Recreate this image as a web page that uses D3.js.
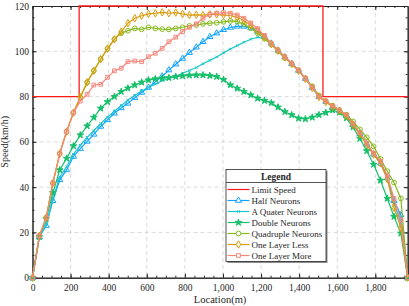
<!DOCTYPE html>
<html>
<head>
<meta charset="utf-8">
<script src="https://cdn.jsdelivr.net/npm/d3@7"></script>
<style>
  body { margin: 0; background: #fff; }
  svg text { font-family: "Liberation Serif", "Times New Roman", serif; fill: #262626; }
</style>
</head>
<body>
<svg id="chart" width="409" height="306"></svg>
<script>
// sampled locations (m), shared by all network runs
var locations = [0, 36, 72, 107, 143, 179, 215, 251, 287, 322, 358, 394, 430, 466, 501, 537, 573, 609, 645, 681,
  716, 752, 788, 824, 860, 895, 931, 967, 1003, 1039, 1075, 1110, 1146, 1182, 1218, 1254, 1289, 1325, 1361, 1397,
  1433, 1469, 1504, 1540, 1576, 1612, 1648, 1683, 1719, 1755, 1791, 1827, 1863, 1898, 1934, 1970];

var limitLocations = [0, 245, 245, 1525, 1525, 1970];
var limitSpeeds = [80, 80, 120, 120, 80, 80];

var halfNeurons = [0, 18, 23, 34, 43.2, 47.6, 53.5, 57, 60.2, 63.3, 66.8, 69.7, 72.6, 75, 77, 79.5, 81.8, 84, 86.5, 89,
  91.7, 94.3, 96.8, 99.4, 101.8, 104.2, 106.4, 108, 109.5, 110.5, 111, 111, 110.3, 108.8, 106.5, 103.5, 100.4, 97.4, 94.5, 91.5,
  87.9, 83.9, 79.9, 77.8, 75.6, 73.8, 71.6, 67.6, 63.6, 59, 54.5, 50.5, 44, 34, 27.7, 0];
var quaterNeurons = [0, 18, 23.5, 35, 44.5, 49, 54.5, 58.5, 62, 65, 68, 71, 73.5, 76, 78.5, 80.5, 82.5, 84, 85.5, 87,
  88, 89, 90.3, 91.5, 92.8, 94.5, 96, 97.5, 99.3, 101, 102.5, 104, 105.3, 106.2, 105.6, 103.4, 100.5, 97.5, 94.6, 91.6,
  88, 84, 80, 77.9, 75.7, 73.9, 71.8, 67.8, 63.8, 59.2, 54.7, 51, 44.5, 33, 24, 0];
var doubleNeurons = [0, 18, 26, 37.5, 47.6, 52.7, 58.2, 63, 67, 70.8, 74.8, 77.7, 80, 82.2, 83.7, 85.1, 86.3, 87.3, 87.8, 88.1,
  88.3, 88.8, 89.1, 89.4, 89.5, 89.5, 89.2, 88.8, 87.5, 85.1, 83.6, 82.2, 80.7, 79.2, 78.2, 77.2, 75.3, 73.3, 71.9, 70.4,
  70.1, 70.8, 71.9, 72.9, 74, 73, 70.5, 66.5, 61.5, 56, 50, 43, 35, 27, 19.6, 0];
var quadrupleNeurons = [0, 18.5, 26.5, 41.8, 54.8, 64.5, 72.9, 79.7, 86.3, 91.4, 96.5, 101.2, 105.3, 108, 109.1, 110.1, 109.7, 110.6, 110.1, 109.8,
  109.7, 110.1, 110.6, 111.2, 111.6, 112.1, 112.4, 112.6, 113, 113.4, 113.1, 112, 110.2, 108, 105.5, 103, 100, 97, 94.5, 91.5,
  88, 84.5, 80.5, 78, 76, 74, 72, 69, 65.5, 62, 58, 52.5, 47, 42, 35, 0];
var oneLayerLess = [0, 18.5, 26.5, 41.8, 54.8, 64.5, 72.9, 79.7, 86.3, 91.4, 96.5, 101.2, 105.3, 108.7, 112.4, 114.6, 115.7, 116.5, 116.8, 117.2,
  116.8, 117.1, 116.5, 116, 116.1, 116, 116.3, 116.3, 116, 115.8, 115, 113.5, 111.5, 109, 106.3, 103.2, 100.3, 97.3, 94.4, 91.4,
  87.8, 83.8, 79.8, 77.6, 75.5, 73.6, 71.4, 67.5, 63.4, 58.8, 54.4, 50.5, 43.5, 31, 22, 0];
var oneLayerMore = [0, 18.5, 26.5, 41.8, 54.8, 64.5, 72.9, 78, 81, 85.1, 85.4, 88.5, 91.4, 92.5, 95.4, 95.7, 95.4, 97.6, 99.1, 101.3,
  104.2, 106.2, 108.7, 110.6, 112.1, 114.6, 116.3, 116.8, 117.1, 116.8, 116, 114.6, 112.5, 110, 107, 103.5, 100.6, 97.6, 94.7, 91.7,
  88, 84, 80, 78, 75.8, 74, 72, 68, 64, 59.4, 55, 51.5, 45, 35, 25.5, 0];

var seriesNames = ['Half Neurons', 'A Quater Neurons', 'Double Neurons', 'Quadruple Neurons', 'One Layer Less', 'One Layer More'];
var seriesValues = [halfNeurons, quaterNeurons, doubleNeurons, quadrupleNeurons, oneLayerLess, oneLayerMore];
var seriesColors = ['#12a4ff', '#1cc6c9', '#17c06a', '#86ba1c', '#d99b0b', '#f7877d'];
var seriesMarkers = ['triangle', 'cross', 'star', 'circle', 'diamond', 'square'];

var xTicks = [0, 200, 400, 600, 800, 1000, 1200, 1400, 1600, 1800];
var yTicks = [0, 20, 40, 60, 80, 100, 120];

(function() {
  var svg = d3.select('#chart');
  var left = 32.5, right = 407.7, top = 6, bottom = 277.7;
  var axisColor = '#262626';
  var serif = '"Liberation Serif", "Times New Roman", serif';

  var x = d3.scaleLinear().domain([0, 1970]).range([left, right]);
  var y = d3.scaleLinear().domain([0, 120]).range([bottom, top]);

  var xMinor = d3.range(0, 1971, 50), yMinor = d3.range(0, 121, 5);

  // dashed grid
  var grid = svg.append('g').attr('stroke', '#d6d6d6').attr('stroke-width', 0.9).attr('stroke-dasharray', '4,3');
  grid.selectAll('.gx').data(xTicks.filter(function(d) { return d > 0; })).join('line')
    .attr('x1', d => x(d)).attr('x2', d => x(d)).attr('y1', top).attr('y2', bottom);
  grid.selectAll('.gy').data(yTicks.filter(function(d) { return d > 0 && d < 120; })).join('line')
    .attr('x1', left).attr('x2', right).attr('y1', d => y(d)).attr('y2', d => y(d));

  // axes, ticks inward on all four sides
  function styleAxis(g) {
    g.attr('font-family', serif);
    g.selectAll('path, line').attr('stroke', axisColor);
    g.select('.domain').attr('stroke-width', 1);
    g.selectAll('text').attr('fill', axisColor).style('font-size', '9.5px').style('font-family', serif);
  }
  svg.append('g').attr('transform', `translate(0,${bottom})`)
    .call(d3.axisBottom(x).tickValues(xMinor).tickSize(-2).tickSizeOuter(0).tickFormat(''))
    .call(styleAxis);
  svg.append('g').attr('transform', `translate(0,${bottom})`)
    .call(d3.axisBottom(x).tickValues(xTicks).tickSize(-4).tickSizeOuter(0).tickPadding(7))
    .call(styleAxis);
  svg.append('g').attr('transform', `translate(0,${top})`)
    .call(d3.axisTop(x).tickValues(xMinor).tickSize(-2).tickSizeOuter(0).tickFormat(''))
    .call(styleAxis);
  svg.append('g').attr('transform', `translate(0,${top})`)
    .call(d3.axisTop(x).tickValues(xTicks).tickSize(-4).tickSizeOuter(0).tickFormat(''))
    .call(styleAxis);
  svg.append('g').attr('transform', `translate(${left},0)`)
    .call(d3.axisLeft(y).tickValues(yMinor).tickSize(-2).tickSizeOuter(0).tickFormat(''))
    .call(styleAxis);
  svg.append('g').attr('transform', `translate(${left},0)`)
    .call(d3.axisLeft(y).tickValues(yTicks).tickSize(-4).tickSizeOuter(0).tickPadding(3.5))
    .call(styleAxis);
  svg.append('g').attr('transform', `translate(${right},0)`)
    .call(d3.axisRight(y).tickValues(yMinor).tickSize(-2).tickSizeOuter(0).tickFormat(''))
    .call(styleAxis);
  svg.append('g').attr('transform', `translate(${right},0)`)
    .call(d3.axisRight(y).tickValues(yTicks).tickSize(-4).tickSizeOuter(0).tickFormat(''))
    .call(styleAxis);

  // markers
  function markerPath(type) {
    if (type === 'triangle') return d3.symbol(d3.symbolTriangle, 16)();
    if (type === 'star') return d3.symbol(d3.symbolStar, 14)();
    if (type === 'circle') return d3.symbol(d3.symbolCircle, 18)();
    if (type === 'diamond') return d3.symbol(d3.symbolDiamond, 16)();
    if (type === 'square') return d3.symbol(d3.symbolSquare, 14)();
    return d3.symbol(d3.symbolTimes, 5)();
  }

  var line = d3.line().x(d => x(d[0])).y(d => y(d[1]));

  // limit speed
  svg.append('path')
    .datum(d3.zip(limitLocations, limitSpeeds))
    .attr('d', line).attr('fill', 'none').attr('stroke', '#ff1a1a').attr('stroke-width', 1.3);

  seriesValues.forEach(function(vals, i) {
    var pts = d3.zip(locations, vals);
    var g = svg.append('g');
    g.append('path').datum(pts).attr('d', line)
      .attr('fill', 'none').attr('stroke', seriesColors[i]).attr('stroke-width', 1.2);
    var filled = seriesMarkers[i] === 'star';
    g.selectAll('path.m').data(pts).join('path').attr('class', 'm')
      .attr('d', markerPath(seriesMarkers[i]))
      .attr('transform', d => `translate(${x(d[0])},${y(d[1])})`)
      .attr('fill', filled ? seriesColors[i] : 'none')
      .attr('stroke', seriesColors[i]).attr('stroke-width', 1);
  });

  // axis titles
  svg.append('text').attr('x', (left + right) / 2).attr('y', 302.5).attr('text-anchor', 'middle')
    .style('font-size', '10.5px').text('Location(m)');
  svg.append('text').attr('transform', `translate(8,${(top + bottom) / 2}) rotate(-90)`)
    .attr('text-anchor', 'middle').style('font-size', '10px').text('Speed(km/h)');

  // legend
  var lx = 226, ly = 169.5, lw = 100, lh = 92;
  var legend = svg.append('g');
  legend.append('rect').attr('x', lx + 1.5).attr('y', ly + 1.5).attr('width', lw).attr('height', lh).attr('fill', '#8c8c8c');
  legend.append('rect').attr('x', lx).attr('y', ly).attr('width', lw).attr('height', lh)
    .attr('fill', '#fff').attr('stroke', axisColor).attr('stroke-width', 0.8);
  legend.append('text').attr('x', lx + lw / 2).attr('y', ly + 10.5).attr('text-anchor', 'middle')
    .style('font-size', '9.5px').style('font-weight', 'bold').text('Legend');
  legend.append('line').attr('x1', lx).attr('x2', lx + lw).attr('y1', ly + 13).attr('y2', ly + 13)
    .attr('stroke', axisColor).attr('stroke-width', 0.8);

  var names = ['Limit Speed'].concat(seriesNames);
  var colors = ['#ff1a1a'].concat(seriesColors);
  var marks = [null].concat(seriesMarkers);
  names.forEach(function(name, i) {
    var cy = ly + 20 + i * 11;
    legend.append('line').attr('x1', lx + 1.5).attr('x2', lx + 23.5).attr('y1', cy).attr('y2', cy)
      .attr('stroke', colors[i]).attr('stroke-width', 1.2);
    if (marks[i]) {
      legend.append('path').attr('d', markerPath(marks[i]))
        .attr('transform', `translate(${lx + 12.5},${cy})`)
        .attr('fill', marks[i] === 'star' ? colors[i] : '#fff')
        .attr('stroke', colors[i]).attr('stroke-width', 1);
    }
    legend.append('text').attr('x', lx + 25.5).attr('y', cy).attr('dy', '0.35em')
      .style('font-size', '9px').text(name);
  });
})();
</script>
</body>
</html>
